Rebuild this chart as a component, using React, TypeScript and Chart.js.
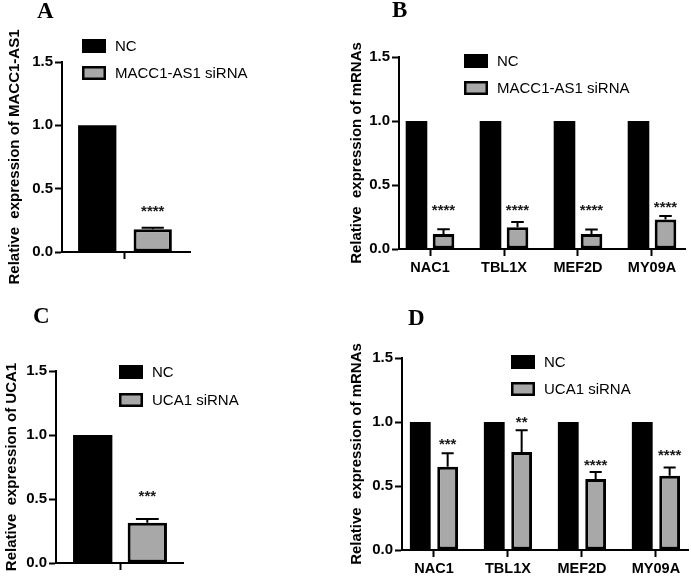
import React, { useEffect, useRef } from 'react';
import { Chart, registerables, ChartConfiguration, Plugin } from 'chart.js';

Chart.register(...registerables);

// ---- data ----
const singleCategory = [''];
const mrnaCategories = ['NAC1', 'TBL1X', 'MEF2D', 'MY09A'];
const yTickValues = [0, 0.5, 1.0, 1.5];

// A: MACC1-AS1 knock-down
const maccNC = [1.0];
const maccSi = [0.18];
const maccSiErr = [0.012];
const maccStars = ['****'];
const maccStarAt = [0.355];

// B: mRNAs after MACC1-AS1 siRNA
const maccMrnaNC = [1.0, 1.0, 1.0, 1.0];
const maccMrnaSi = [0.117, 0.17, 0.117, 0.23];
const maccMrnaErr = [0.038, 0.04, 0.035, 0.028];
const maccMrnaStars = ['****', '****', '****', '****'];
const maccMrnaStarAt = [0.33, 0.33, 0.33, 0.36];

// C: UCA1 knock-down
const ucaNC = [1.0];
const ucaSi = [0.315];
const ucaSiErr = [0.028];
const ucaStars = ['***'];
const ucaStarAt = [0.55];

// D: mRNAs after UCA1 siRNA
const ucaMrnaNC = [1.0, 1.0, 1.0, 1.0];
const ucaMrnaSi = [0.65, 0.765, 0.555, 0.58];
const ucaMrnaErr = [0.105, 0.17, 0.055, 0.065];
const ucaMrnaStars = ['***', '**', '****', '****'];
const ucaMrnaStarAt = [0.86, 1.03, 0.69, 0.77];

const SANS = '"Liberation Sans", Arial, sans-serif';
const SERIF = '"Liberation Serif", "Times New Roman", serif';
const GREY = '#a8a8a8';

interface PanelSpec {
  letter: string;
  letterX: number;
  letterY: number;
  left: number;
  top: number;
  width: number;
  height: number;
  area: { left: number; top: number; right: number; bottom: number };
  xMin: number;
  xMax: number;
  catPct: number;
  barPct: number;
  titlePad: number;
  legendX: number;
  legendY: number;
  legendGap: number;
  categories: string[];
  nc: number[];
  si: number[];
  err: number[];
  stars: string[];
  starAt: number[];
  siLabel: string;
  yTitle: string;
}

const overlay = (p: PanelSpec): Plugin<'bar'> => ({
  id: 'overlay',
  afterDatasetsDraw(chart) {
    const { ctx } = chart;
    const y = chart.scales.y;
    const meta = chart.getDatasetMeta(1);
    ctx.save();
    ctx.strokeStyle = '#000';
    ctx.lineWidth = 2;
    meta.data.forEach((el, i) => {
      const { x, y: barTop, width } = el.getProps(['x', 'y', 'width'], true) as any;
      const capY = y.getPixelForValue(p.si[i] + p.err[i]);
      const half = width * 0.29;
      ctx.beginPath();
      ctx.moveTo(x, barTop);
      ctx.lineTo(x, capY);
      ctx.moveTo(x - half, capY);
      ctx.lineTo(x + half, capY);
      ctx.stroke();
      ctx.fillStyle = '#1a1a1a';
      ctx.font = `bold 15px ${SANS}`;
      ctx.textAlign = 'center';
      ctx.textBaseline = 'alphabetic';
      ctx.fillText(p.stars[i], x, y.getPixelForValue(p.starAt[i]) + 8.6);
    });

    // legend
    const items = [
      { label: 'NC', fill: '#000' },
      { label: p.siLabel, fill: GREY },
    ];
    items.forEach((it, i) => {
      const bx = p.legendX;
      const by = p.legendY + i * p.legendGap;
      ctx.fillStyle = '#000';
      ctx.fillRect(bx, by, 24, 14);
      if (i === 1) {
        ctx.fillStyle = it.fill;
        ctx.fillRect(bx + 2.5, by + 2.5, 19, 9);
      }
      ctx.fillStyle = '#000';
      ctx.font = `15px ${SANS}`;
      ctx.textAlign = 'left';
      ctx.textBaseline = 'middle';
      ctx.fillText(it.label, bx + 33, by + 7.5);
    });
    ctx.restore();
  },
});

const Panel: React.FC<{ spec: PanelSpec }> = ({ spec }) => {
  const canvasRef = useRef<HTMLCanvasElement>(null);
  const chartRef = useRef<Chart | null>(null);

  useEffect(() => {
    if (!canvasRef.current) return;
    if (chartRef.current) chartRef.current.destroy();
    const p = spec;

    const config: ChartConfiguration<'bar'> = {
      type: 'bar',
      data: {
        datasets: [
          {
            label: 'NC',
            data: p.nc.map((v, i) => ({ x: i, y: v })) as any,
            backgroundColor: '#000',
            borderColor: '#000',
            borderWidth: 0,
            categoryPercentage: p.catPct,
            barPercentage: p.barPct,
          },
          {
            label: p.siLabel,
            data: p.si.map((v, i) => ({ x: i, y: v })) as any,
            backgroundColor: GREY,
            borderColor: '#000',
            borderWidth: 3,
            borderSkipped: false,
            categoryPercentage: p.catPct,
            barPercentage: p.barPct,
          },
        ],
      },
      options: {
        responsive: false,
        animation: false,
        layout: {
          padding: {
            left: 0,
            top: p.area.top,
            right: p.width - p.area.right,
            bottom: 0,
          },
        },
        plugins: {
          legend: { display: false },
          tooltip: { enabled: false },
        },
        scales: {
          x: {
            type: 'linear',
            min: p.xMin,
            max: p.xMax,
            offset: false,
            afterBuildTicks: (s: any) => {
              s.ticks = p.categories.map((_, i) => ({ value: i }));
            },
            afterFit: (s: any) => {
              s.height = p.height - p.area.bottom;
            },
            grid: {
              offset: false,
              drawOnChartArea: false,
              drawTicks: true,
              tickLength: 7,
              tickWidth: 2,
              tickColor: '#000',
            },
            border: { display: true, color: '#000', width: 2 },
            ticks: {
              autoSkip: false,
              maxRotation: 0,
              padding: 3,
              color: '#000',
              font: { family: SANS, size: 14.5, weight: 'bold' },
              callback: (v: any) => p.categories[Math.round(Number(v))] ?? '',
            },
          },
          y: {
            min: 0,
            max: 1.5,
            afterBuildTicks: (s: any) => {
              s.ticks = yTickValues.map((v) => ({ value: v }));
            },
            afterFit: (s: any) => {
              s.width = p.area.left;
            },
            grid: {
              drawOnChartArea: false,
              drawTicks: true,
              tickLength: 7,
              tickWidth: 2,
              tickColor: '#000',
            },
            border: { display: true, color: '#000', width: 2 },
            ticks: {
              padding: 2,
              color: '#000',
              font: { family: SANS, size: 15, weight: 'bold' },
              callback: (v: any) => Number(v).toFixed(1),
            },
            title: {
              display: true,
              text: p.yTitle,
              color: '#000',
              font: { family: SANS, size: 15, weight: 'bold' },
              padding: { top: p.titlePad, bottom: 0 },
            },
          },
        },
      },
      plugins: [overlay(p)],
    };

    chartRef.current = new Chart(canvasRef.current, config);
    return () => {
      if (chartRef.current) {
        chartRef.current.destroy();
        chartRef.current = null;
      }
    };
  }, [spec]);

  return (
    <>
      <canvas
        ref={canvasRef}
        width={spec.width}
        height={spec.height}
        style={{
          position: 'absolute',
          left: spec.left,
          top: spec.top,
          width: spec.width,
          height: spec.height,
        }}
      />
      <div
        style={{
          position: 'absolute',
          left: spec.letterX,
          top: spec.letterY - 4,
          font: `bold 23px ${SERIF}`,
          lineHeight: '23px',
          color: '#000',
        }}
      >
        {spec.letter}
      </div>
    </>
  );
};

const panels: PanelSpec[] = [
  {
    letter: 'A', letterX: 37, letterY: 3,
    left: 0, top: 0, width: 340, height: 290,
    area: { left: 62, top: 62, right: 190, bottom: 252 },
    xMin: -0.492, xMax: 0.508, catPct: 0.867, barPct: 0.69,
    titlePad: 6, legendX: 82, legendY: 39, legendGap: 27,
    categories: singleCategory, nc: maccNC, si: maccSi, err: maccSiErr,
    stars: maccStars, starAt: maccStarAt,
    siLabel: 'MACC1-AS1 siRNA', yTitle: 'Relative  expression of MACC1-AS1',
  },
  {
    letter: 'B', letterX: 392, letterY: 2,
    left: 340, top: 0, width: 351, height: 290,
    area: { left: 59, top: 57, right: 345, bottom: 249 },
    xMin: -0.419, xMax: 3.446, catPct: 0.73, barPct: 0.8,
    titlePad: 8, legendX: 124, legendY: 54, legendGap: 27,
    categories: mrnaCategories, nc: maccMrnaNC, si: maccMrnaSi, err: maccMrnaErr,
    stars: maccMrnaStars, starAt: maccMrnaStarAt,
    siLabel: 'MACC1-AS1 siRNA', yTitle: 'Relative  expression of mRNAs',
  },
  {
    letter: 'C', letterX: 33, letterY: 308,
    left: 0, top: 290, width: 340, height: 286,
    area: { left: 56, top: 81, right: 183, bottom: 273 },
    xMin: -0.504, xMax: 0.496, catPct: 0.86, barPct: 0.72,
    titlePad: 3, legendX: 119, legendY: 75, legendGap: 28,
    categories: singleCategory, nc: ucaNC, si: ucaSi, err: ucaSiErr,
    stars: ucaStars, starAt: ucaStarAt,
    siLabel: 'UCA1 siRNA', yTitle: 'Relative  expression of UCA1',
  },
  {
    letter: 'D', letterX: 408, letterY: 310,
    left: 340, top: 290, width: 351, height: 286,
    area: { left: 62, top: 68, right: 348, bottom: 260 },
    xMin: -0.432, xMax: 3.433, catPct: 0.74, barPct: 0.76,
    titlePad: 7.5, legendX: 171, legendY: 65, legendGap: 27,
    categories: mrnaCategories, nc: ucaMrnaNC, si: ucaMrnaSi, err: ucaMrnaErr,
    stars: ucaMrnaStars, starAt: ucaMrnaStarAt,
    siLabel: 'UCA1 siRNA', yTitle: 'Relative  expression of mRNAs',
  },
];

export default function App() {
  return (
    <div
      style={{
        position: 'absolute',
        left: 0,
        top: 0,
        width: 691,
        height: 576,
        background: '#fff',
        overflow: 'hidden',
      }}
    >
      {panels.map((p) => (
        <Panel key={p.letter} spec={p} />
      ))}
    </div>
  );
}
